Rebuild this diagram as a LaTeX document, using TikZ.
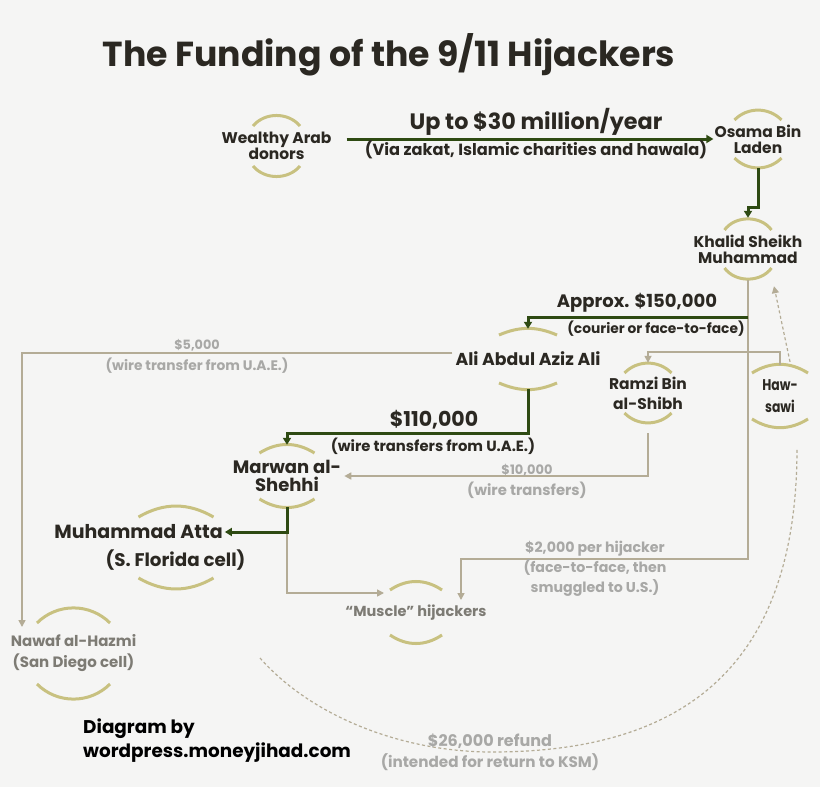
\documentclass[tikz,border=0pt]{standalone}
\usepackage{fontspec}
\setmainfont{Poppins}
\newfontfamily\cond{Poppins}[FakeStretch=0.8]
\usetikzlibrary{arrows.meta,calc}
\definecolor{bg}{RGB}{245,245,244}
\definecolor{ink}{RGB}{43,40,34}
\definecolor{grn}{RGB}{46,74,18}
\definecolor{tanline}{RGB}{180,172,150}
\definecolor{ringc}{RGB}{200,193,128}
\definecolor{pale}{RGB}{168,168,166}
\definecolor{midgray}{RGB}{125,123,116}
\newcommand\rings[6]{%
  \draw[ringline] (#1-#4,#2+#5) to[bend left=#6] (#1+#4,#2+#5);
  \draw[ringline] (#1-#4,#3-#5) to[bend right=#6] (#1+#4,#3-#5);}
\newcommand\fsz[2]{\fontsize{#1}{#2}\selectfont}
\begin{document}
\begin{tikzpicture}[x=1pt,y=-1pt,
  garrow/.style={draw=grn, line width=3pt, -{Triangle[length=7pt,width=8pt]}},
  tarrow/.style={draw=tanline, line width=1.6pt, -{Triangle[length=7pt,width=7pt]}},
  tdash/.style={draw=tanline, line width=1.2pt, dash pattern=on 3pt off 2.5pt},
  dasharrow/.style={tdash, -{Triangle[length=7pt,width=7pt]}},
  ringline/.style={draw=ringc, line width=3pt},
  person/.style={inner ysep=0pt, inner xsep=2pt, align=center, text=ink, font=\bfseries\fsz{15.5}{16}},
  lab/.style={inner sep=0pt, align=center, text=ink},
  palelab/.style={inner sep=0pt, align=center, text=pale, font=\bfseries\fsz{14.2}{20}}]
\fill[bg] (0,0) rectangle (820,787);
\useasboundingbox (0,0) rectangle (820,787);

% title
\node[lab, font=\bfseries\fsz{34.7}{36}] (title) at (389,55) {The Funding of the 9/11 Hijackers};

% people
\node[person, minimum height=62, inner xsep=15pt] (donors) at (276.5,146) {Wealthy Arab\\donors};
\node[person, minimum height=58, inner xsep=1pt] (osama) at (758,139) {Osama Bin\\Laden};
\node[person, minimum height=62] (ksm) at (748,249) {Khalid Sheikh\\Muhammad};
\node[person, font=\bfseries\fsz{17.3}{18}, minimum height=60, inner xsep=3pt] (ali) at (528,359) {Ali Abdul Aziz Ali};
\node[person, font=\bfseries\fsz{15.5}{20}, minimum height=60] (ramzi) at (648,393) {Ramzi Bin\\al-Shibh};
\node[person, font=\cond\bfseries\fsz{15.5}{22}, minimum height=62] (haws) at (780,396) {Haw-\\sawi};
\node[person, font=\bfseries\fsz{18}{18}, minimum height=62, inner xsep=3pt] (marwan) at (287,476) {Marwan al-\\Shehhi};
\node[person, font=\bfseries\fsz{19}{20}, inner xsep=2pt] (atta) at (138.5,532) {Muhammad Atta};
\node[lab, font=\bfseries\fsz{18.3}{20}] (attasub) at (175.5,560) {(S. Florida cell)};
\node[person, font=\bfseries\fsz{14.5}{16}, text=midgray, minimum height=61] (muscle) at (416,612.5) {“Muscle” hijackers};
\node[person, font=\bfseries\fsz{15}{21}, text=midgray, minimum height=91] (nawaf) at (73.5,653.5) {Nawaf al-Hazmi\\(San Diego cell)};

% rings
\rings{276.5}{115}{177}{23.5}{11}{50}
\rings{758}{110}{168}{23.5}{10}{46}
\rings{748}{218}{280}{23.5}{12}{54}
\rings{528}{329}{389}{29}{6}{23}
\rings{648}{363}{423}{23.5}{10}{46}
\rings{780}{365}{427}{28}{8}{32}
\rings{287}{445}{507}{27.5}{8}{32}
\rings{176}{507}{588}{37.5}{10}{30}
\rings{416}{582}{643}{26}{8}{34}
\rings{73.5}{608}{699}{36.5}{15}{45}

% free ends
\coordinate (nawafIn) at (22,627);
\coordinate (muscleTop) at (461,600);
\coordinate (muscleLeft) at (384,593);
\coordinate (refundStart) at (260,658);

% tan connectors
\draw[tarrow] (ksm.south) |- (muscleTop |- 0,559) -- (muscleTop);
\draw[tarrow] ([yshift=6pt]ali.west) -| (nawafIn);
\draw[tarrow] (haws.north) -- ++(0,-13) -| (ramzi.north);
\draw[tarrow] ([yshift=-10pt]ramzi.south) |- (marwan.east);
\draw[tarrow] (marwan.south) ++(0,24) |- (muscleLeft);
\draw[dasharrow] ([xshift=10pt,yshift=3pt]haws.north) -- ([xshift=26pt,yshift=-6pt]ksm.south);
\draw[tdash] (refundStart) .. controls (310,715) and (400,752) .. (492,752)
   .. controls (680,752) and (797,670) .. ([xshift=17pt,yshift=-21pt]haws.south);

% green connectors
\draw[garrow] (donors.east |- osama.west) -- (osama.west);
\draw[garrow] (osama.south) -- ++(0,39) -| (ksm.north);
\draw[garrow] (ksm.south) ++(0,37) -| (ali.north);
\draw[garrow] (ali.south) -- ++(0,44) -| (marwan.north);
\draw[garrow] (marwan.south) |- (atta.east);

% labels
\node[lab, font=\bfseries\fsz{22.3}{23}] (l30) at (536,122) {Up to \$30 million/year};
\node[lab, font=\bfseries\fsz{16.2}{17}] (l30b) at (536,150) {(Via zakat, Islamic charities and hawala)};
\node[lab, font=\bfseries\fsz{18}{20}] (l150) at (637,303) {Approx. \$150,000};
\node[lab, font=\bfseries\fsz{13.8}{15}] (l150b) at (656,329) {(courier or face-to-face)};
\node[palelab, font=\bfseries\fsz{12.8}{14}] (l5) at (197,345) {\$5,000};
\node[palelab, font=\bfseries\fsz{13.8}{15}] (l5b) at (197,366) {(wire transfer from U.A.E.)};
\node[lab, font=\bfseries\fsz{20.5}{21}] (l110) at (434,420) {\$110,000};
\node[lab, font=\bfseries\fsz{14.8}{16}] (l110b) at (433,446) {(wire transfers from U.A.E.)};
\node[palelab, font=\bfseries\fsz{13}{14}] (l10) at (527,470) {\$10,000};
\node[palelab, font=\bfseries\fsz{14.8}{16}] (l10b) at (527,490) {(wire transfers)};
\node[palelab] (l2) at (595,569) {\$2,000 per hijacker\\(face-to-face, then\\smuggled to U.S.)};
\node[palelab, font=\bfseries\fsz{16}{18}] (l26) at (490,741) {\$26,000 refund};
\node[palelab, font=\bfseries\fsz{15.2}{16}] (l26b) at (490,762) {(intended for return to KSM)};
\node[lab, align=left, anchor=west, text=black, font=\bfseries\fsz{18.4}{24}] (credit) at (83,741) {Diagram by\\wordpress.moneyjihad.com};
\end{tikzpicture}
\end{document}
